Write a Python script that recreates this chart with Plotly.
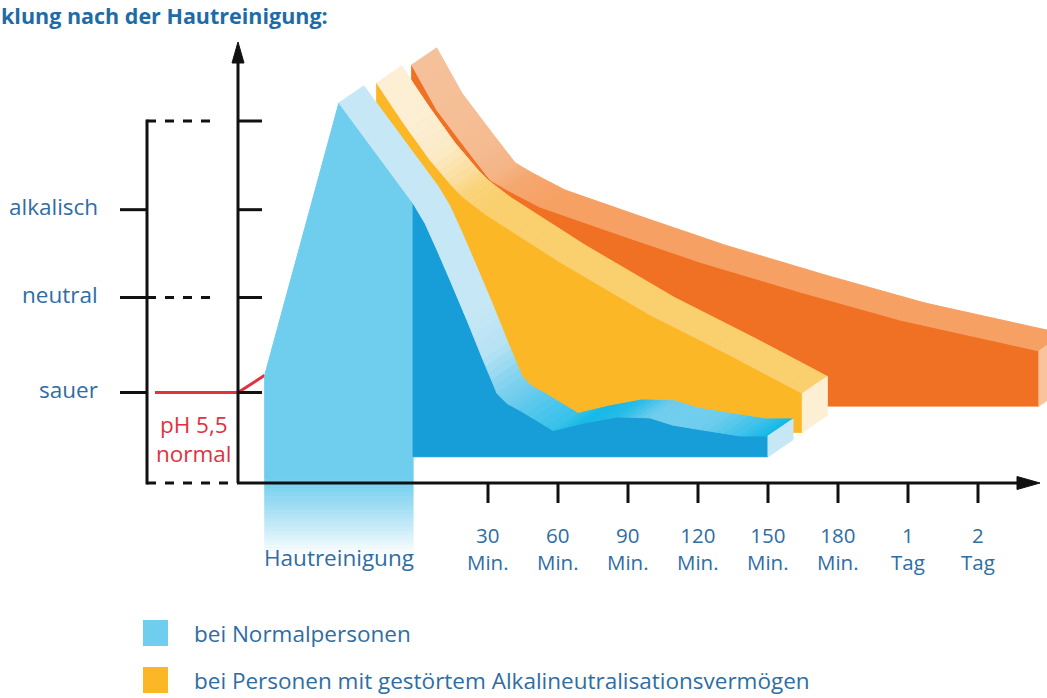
import plotly.graph_objects as go

# ---------------- data ----------------
TIME_POS = [1, 2, 3, 4, 5, 6, 7, 8]
TIME_LABELS = ["30<br>Min.", "60<br>Min.", "90<br>Min.", "120<br>Min.",
               "150<br>Min.", "180<br>Min.", "1<br>Tag", "2<br>Tag"]
WASH_LABEL = "Hautreinigung"
LEVEL_LABELS = ["sauer", "neutral", "alkalisch"]
LEVEL_VALUES = [1.0, 2.05, 3.02]
LEVEL_TOP = 4.0
PH_NORMAL = 1.0

# bei Normalpersonen (index 0..WASH_END = Hautreinigung)
BLUE_X = [-2.19, -1.13, -0.07, 0.10, 0.27, 0.46, 0.70, 0.93, 1.13, 1.27,
          1.46, 1.93, 2.36, 2.84, 3.31, 3.64, 4.03, 4.60, 5.00]
BLUE_Y = [1.19, 4.20, 3.09, 2.87, 2.58, 2.24, 1.80, 1.36, 0.99, 0.88,
          0.80, 0.58, 0.66, 0.73, 0.72, 0.64, 0.59, 0.52, 0.52]
BLUE_BASE = 0.29
WASH_END = 2

# bei Personen mit gestörtem Alkalineutralisationsvermögen
YELLOW_X = [-0.59, -0.21, 0.17, 0.50, 0.64, 0.96, 2.03, 3.31, 4.46, 5.49]
YELLOW_Y = [4.42, 3.98, 3.57, 3.27, 3.16, 2.97, 2.44, 1.86, 1.41, 0.99]
YELLOW_BASE = 0.56

# third (orange) course
ORANGE_X = [-0.09, 0.27, 0.70, 1.03, 1.27, 1.74, 2.89, 4.03, 5.46, 6.89, 8.87]
ORANGE_Y = [4.62, 4.12, 3.68, 3.35, 3.24, 3.05, 2.74, 2.44, 2.11, 1.80, 1.46]
ORANGE_BASE = 0.85

LEGEND_TEXT = ["bei Normalpersonen",
               "bei Personen mit gestörtem Alkalineutralisationsvermögen"]
TITLE_TEXT = "klung nach der Hautreinigung:"
PH_TEXT = "pH 5,5<br>normal"

# ---------------- layout helpers (pixel -> axis units) ----------------
W, H = 1047, 698
PX0, PXS = 418.0, 70.0
PY0, PYS = 483.0, 90.5


def X(px):
    return (px - PX0) / PXS


def Y(py):
    return (PY0 - py) / PYS


DX = 25 / PXS      # depth of the 3D extrusion
DY = 17 / PYS

TXT = "#2F6DA3"
RED = "#E2313F"
FONT = "Open Sans"
FS = 22.5

BLUE_LIGHT = "#6FCDEE"
BLUE_DARK = "#179DD8"
BLUE_SIDE = "#C6E8F6"
# band colours per vertex (from the peak, index 1, to the end)
BLUE_BAND = ["#C6E8F6", "#C6E8F6", "#C6E8F6", "#C6E8F6", "#C6E8F6", "#C6E8F6",
             "#B5E2F4", "#7ED1EF", "#6FCDEE", "#5CC9ED", "#35C1EA", "#14B9E8",
             "#24BCE9", "#6FCDEE", "#72CEEE", "#6FCDEE", "#3CC2EB", "#12B8E8"]
YELLOW_FRONT = "#FBB726"
YELLOW_SIDE = "#FDEFD4"
YELLOW_BAND = ["#FCEFD3", "#FCEFD3", "#FCEBC8", "#FBDD98", "#FAD47A",
               "#FAD06E", "#FAD06E", "#FAD06E", "#FAD06E", "#FAD06E"]
ORANGE_FRONT = "#F07124"
ORANGE_SIDE = "#F9C39C"
ORANGE_BAND = ["#F5C19B", "#F5BF97", "#F5BC92", "#F5B485", "#F5A870",
               "#F6A064", "#F6A064", "#F6A064", "#F6A064", "#F6A064", "#F6A064"]

fig = go.Figure()


def hex2rgb(h):
    h = h.lstrip("#")
    return tuple(int(h[i:i + 2], 16) for i in (0, 2, 4))


def mix(c1, c2, t):
    a, b = hex2rgb(c1), hex2rgb(c2)
    r, g, bl = [int(round(a[i] + (b[i] - a[i]) * t)) for i in range(3)]
    return f"rgb({r},{g},{bl})"


def poly(xs, ys, color, width=1.0):
    xs = list(xs)
    ys = list(ys)
    fig.add_trace(go.Scatter(
        x=xs + [xs[0]], y=ys + [ys[0]], mode="lines", fill="toself",
        fillcolor=color, line=dict(color=color, width=width),
        hoverinfo="skip", showlegend=False))


def band(xs, ys, start, vcolors, sub=5):
    for k, i in enumerate(range(start, len(xs) - 1)):
        c1, c2 = vcolors[k], vcolors[k + 1]
        for s in range(sub):
            t0, t1 = s / sub, (s + 1) / sub
            xa = xs[i] + (xs[i + 1] - xs[i]) * t0
            ya = ys[i] + (ys[i + 1] - ys[i]) * t0
            xb = xs[i] + (xs[i + 1] - xs[i]) * t1
            yb = ys[i] + (ys[i + 1] - ys[i]) * t1
            col = mix(c1, c2, (t0 + t1) / 2)
            poly([xa, xb, xb + DX, xa + DX], [ya, yb, yb + DY, ya + DY], col)


def side(xs, ys, base, color):
    poly([xs[-1], xs[-1] + DX, xs[-1] + DX, xs[-1]],
         [ys[-1], ys[-1] + DY, base + DY, base], color)


AXIS_X = X(238)

# red normal-pH line
fig.add_trace(go.Scatter(
    x=[X(155), AXIS_X, BLUE_X[0]], y=[PH_NORMAL, PH_NORMAL, BLUE_Y[0]],
    mode="lines", line=dict(color=RED, width=3), hoverinfo="skip",
    showlegend=False))

# orange course (back)
poly([ORANGE_X[0]] + ORANGE_X + [ORANGE_X[-1]],
     [ORANGE_BASE] + ORANGE_Y + [ORANGE_BASE], ORANGE_FRONT)
band(ORANGE_X, ORANGE_Y, 0, ORANGE_BAND)
side(ORANGE_X, ORANGE_Y, ORANGE_BASE, ORANGE_SIDE)

# yellow course (middle)
poly([YELLOW_X[0]] + YELLOW_X + [YELLOW_X[-1]],
     [YELLOW_BASE] + YELLOW_Y + [YELLOW_BASE], YELLOW_FRONT)
band(YELLOW_X, YELLOW_Y, 0, YELLOW_BAND)
side(YELLOW_X, YELLOW_Y, YELLOW_BASE, YELLOW_SIDE)

# blue course (front)
col_bottom = Y(478)
poly([BLUE_X[0]] + BLUE_X[:WASH_END + 1] + [BLUE_X[WASH_END]],
     [col_bottom] + BLUE_Y[:WASH_END + 1] + [col_bottom], BLUE_LIGHT)
# fading of the Hautreinigung column below the axis
n_fade = 30
fy0, fy1 = Y(478), Y(556)
for k in range(n_fade):
    t = (k + 0.5) / n_fade
    c = mix(BLUE_LIGHT, "#FFFFFF", t ** 1.1)
    ya = fy0 + (fy1 - fy0) * k / n_fade
    yb = fy0 + (fy1 - fy0) * (k + 1) / n_fade
    poly([BLUE_X[0], BLUE_X[WASH_END], BLUE_X[WASH_END], BLUE_X[0]],
         [ya, ya, yb, yb], c, width=0.8)
poly([BLUE_X[WASH_END]] + BLUE_X[WASH_END:] + [BLUE_X[-1]],
     [BLUE_BASE] + BLUE_Y[WASH_END:] + [BLUE_BASE], BLUE_DARK)
band(BLUE_X, BLUE_Y, 1, BLUE_BAND)
side(BLUE_X, BLUE_Y, BLUE_BASE, BLUE_SIDE)

# ---------------- axes drawn as shapes ----------------
shapes = []
K = "#111111"
LW = 3


def line(x0, y0, x1, y1, dash=None, color=K, width=LW):
    d = dict(type="line", x0=x0, y0=y0, x1=x1, y1=y1, xref="x", yref="y",
             line=dict(color=color, width=width), layer="above")
    if dash:
        d["line"]["dash"] = dash
    shapes.append(d)


def tri(pts, color=K):
    p = "M " + " L ".join(f"{a},{b}" for a, b in pts) + " Z"
    shapes.append(dict(type="path", path=p, xref="x", yref="y",
                       fillcolor=color, line=dict(color=color, width=1),
                       layer="above"))


# y axis with arrow
line(AXIS_X, 0, AXIS_X, Y(60))
tri([(AXIS_X - 6 / PXS, Y(63)), (AXIS_X + 6 / PXS, Y(63)), (AXIS_X, Y(42))])
# x axis with arrow
line(AXIS_X, 0, X(1020), 0)
tri([(X(1017), Y(476.5)), (X(1017), Y(489.5)), (X(1040), 0)])
# right ticks on the y axis
for v in LEVEL_VALUES + [LEVEL_TOP]:
    line(AXIS_X, v, X(262), v)
# left bracket
BX = X(147)
line(BX, 0 - 1.5 / PYS, BX, LEVEL_TOP + 1.5 / PYS)
for v in LEVEL_VALUES:
    line(X(120), v, BX, v)
line(BX, LEVEL_TOP, X(216), LEVEL_TOP, dash="9px,9px")
line(BX, LEVEL_VALUES[1], X(216), LEVEL_VALUES[1], dash="9px,9px")
line(BX, 0, AXIS_X, 0, dash="9px,9px")
# time ticks
for p in TIME_POS:
    line(p, 0, p, Y(503))

# legend squares
LEG_COLORS = [BLUE_LIGHT, YELLOW_FRONT]
LEG_PY = [633, 680]
for c, py in zip(LEG_COLORS, LEG_PY):
    shapes.append(dict(type="rect", xref="x", yref="y",
                       x0=X(143), x1=X(168), y0=Y(py - 13), y1=Y(py + 13),
                       fillcolor=c, line=dict(width=0), layer="above"))

# ---------------- text ----------------
ann = []


def txt(x, y, s, color=TXT, anchor="center", size=FS):
    ann.append(dict(x=x, y=y, text=s, xanchor=anchor, yanchor="middle",
                    showarrow=False,
                    font=dict(family=FONT, size=size, color=color)))


for lab, v in zip(LEVEL_LABELS, LEVEL_VALUES):
    txt(X(100), v + 3 / PYS, lab, anchor="right")
for p, lab in zip(TIME_POS, TIME_LABELS):
    txt(p, Y(548), lab, size=20.5)
txt((BLUE_X[0] + BLUE_X[WASH_END]) / 2, Y(557), WASH_LABEL)
txt(X(194), Y(439), PH_TEXT, color=RED)
for t, py in zip(LEGEND_TEXT, LEG_PY):
    txt(X(192), Y(py), t, anchor="left")
ann.append(dict(x=0, y=1, xref="paper", yref="paper", xanchor="left",
                yanchor="top", borderpad=0, showarrow=False,
                text="<b>" + TITLE_TEXT + "</b>",
                font=dict(family=FONT, size=21.5, color="#1E6BA6")))

fig.update_layout(
    width=W, height=H, autosize=False,
    margin=dict(l=0, r=0, t=0, b=0, pad=0),
    paper_bgcolor="white", plot_bgcolor="white",
    xaxis=dict(range=[X(0), X(W)], visible=False, fixedrange=True),
    yaxis=dict(range=[Y(H), Y(0)], visible=False, fixedrange=True),
    shapes=shapes, annotations=ann, showlegend=False,
)

fig.write_html("out.html",
               config={"displayModeBar": False},
               post_script="document.body.style.margin='0px';"
                           "document.body.style.padding='0px';")
